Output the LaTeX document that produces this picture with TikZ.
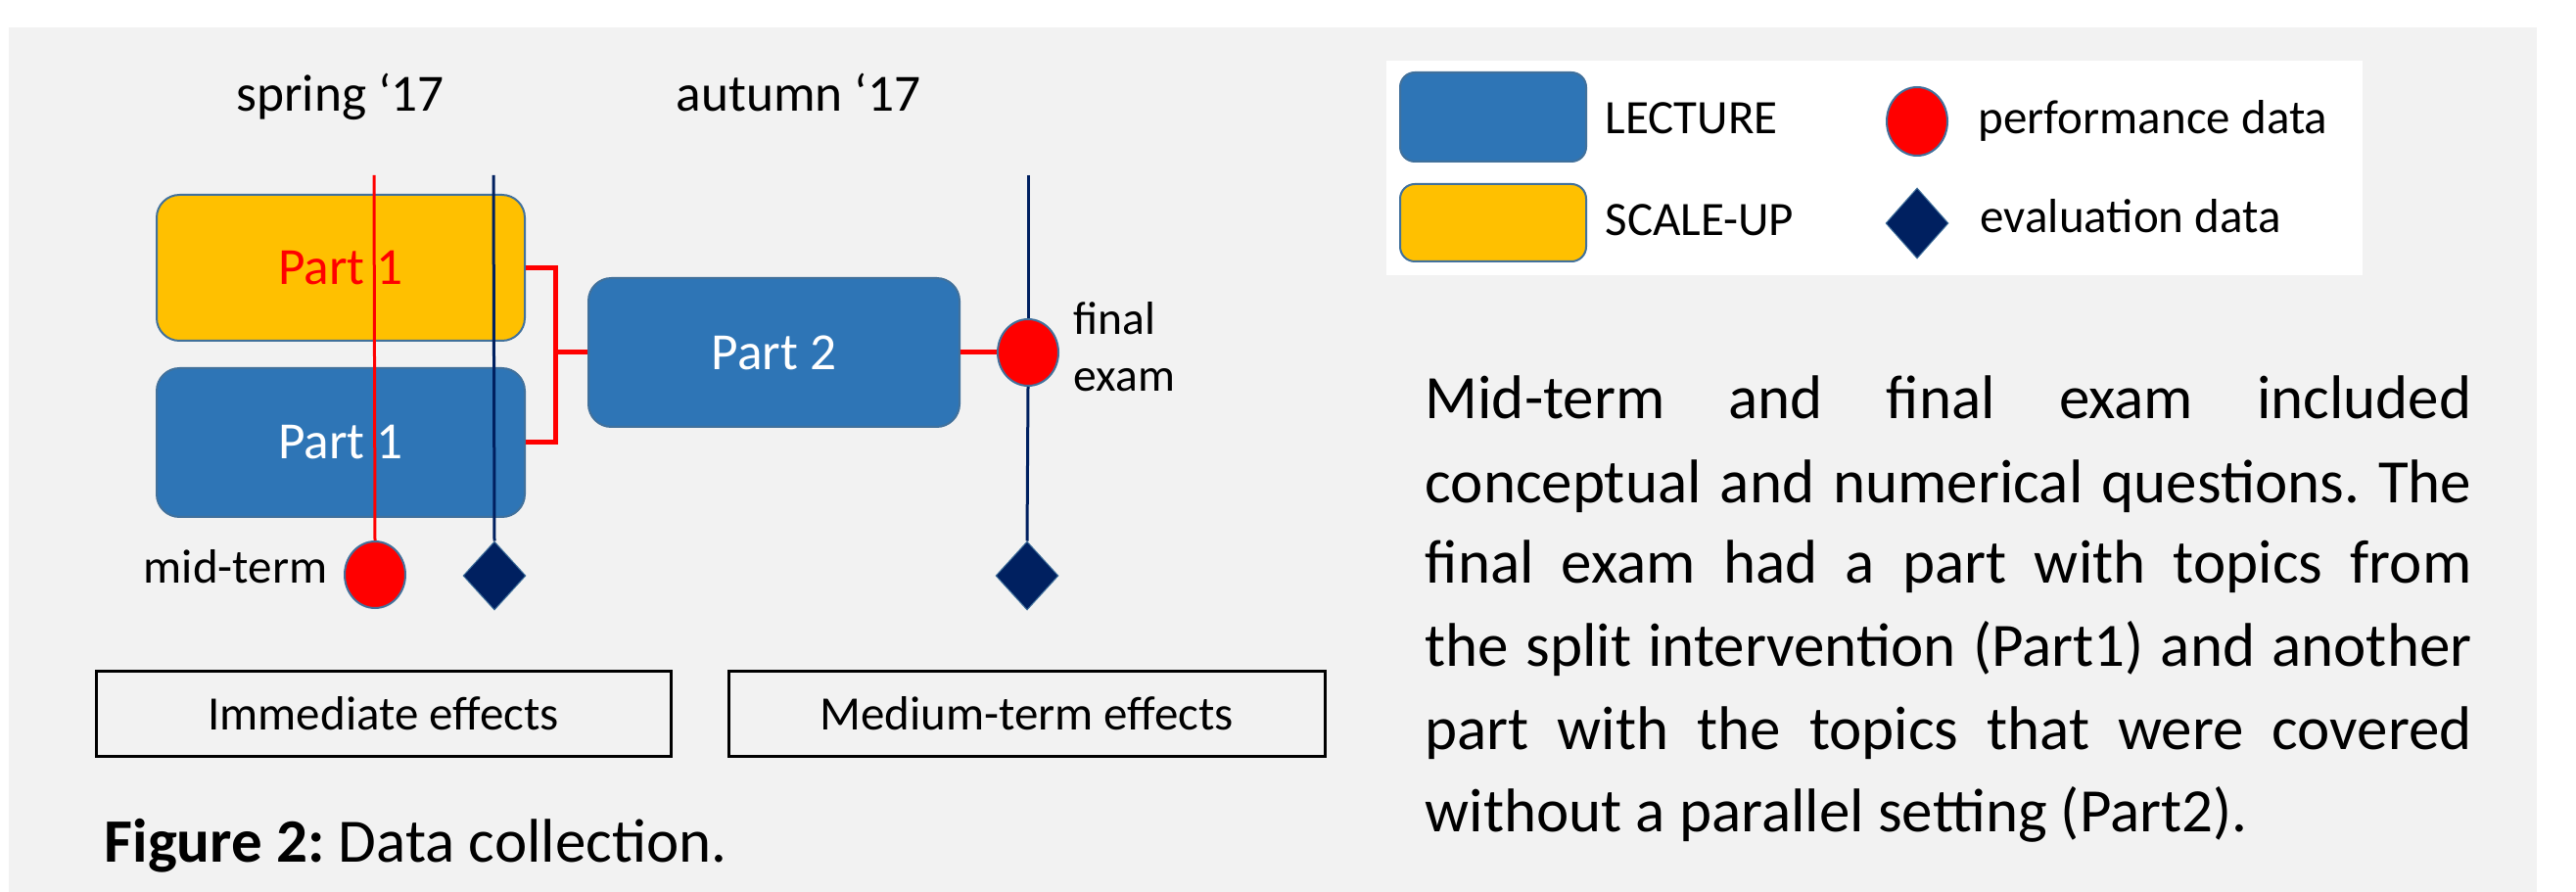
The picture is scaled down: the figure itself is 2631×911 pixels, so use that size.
\documentclass[tikz,border=0pt]{standalone}
\usepackage{fontspec}
\setmainfont{Carlito}
\usetikzlibrary{shapes.geometric}
\definecolor{bgray}{HTML}{F2F2F2}
\definecolor{lblue}{HTML}{2E75B6}
\definecolor{lyell}{HTML}{FFC000}
\definecolor{navyc}{HTML}{002060}
\definecolor{edgeb}{HTML}{41719C}
\newcommand\fsSmall{\fontsize{14.7pt}{17.4pt}\selectfont}
\newcommand\fsPart{\fontsize{16pt}{19pt}\selectfont}
\newcommand\fsBig{\fontsize{18.9pt}{25.3pt}\selectfont}
\frenchspacing
\begin{document}
\frenchspacing
\begin{tikzpicture}[x=0.3pt,y=-0.3pt,
  box/.style={rectangle, rounded corners=7pt, draw=edgeb, line width=0.6pt, inner sep=0pt, font=\fsPart},
  lecture/.style={box, fill=lblue, text=white},
  scaleup/.style={box, fill=lyell, text=red},
  swatch/.style={rectangle, rounded corners=4.5pt, draw=edgeb, line width=0.6pt, inner sep=0pt, minimum width=57pt},
  perf/.style={ellipse, fill=red, draw=edgeb, line width=0.6pt, minimum width=18.6pt, minimum height=20.4pt, inner sep=0pt},
  evald/.style={diamond, fill=navyc, draw=edgeb, line width=0.3pt, minimum width=19.2pt, minimum height=21pt, inner sep=0pt},
  effect/.style={rectangle, draw=black, line width=0.9pt, inner sep=0pt, minimum height=26.1pt, font=\fsSmall},
  lbl/.style={inner sep=0pt, font=\fsSmall},
  plbl/.style={inner sep=0pt, font=\fsPart},
  para/.style={inner sep=0pt, font=\fsBig\frenchspacing, anchor=base west},
  redline/.style={red, line width=0.9pt},
  navyline/.style={navyc, line width=0.9pt},
  bracketline/.style={red, line width=1.5pt}
]
\useasboundingbox (0,0) rectangle (2631,911);
\fill[white] (0,0) rectangle (2631,911);
\fill[bgray] (9,28) rectangle (2591,911);

% legend
\node[fill=white, inner sep=0pt, minimum width=299.1pt, minimum height=65.7pt] (legend) at (1914.5,171.5) {};
\node[swatch, fill=lblue, minimum height=27.3pt] (swl) at (1525,119.5) {};
\node[swatch, fill=lyell, minimum height=23.7pt] (sws) at (1525,227.5) {};
\node[lbl, anchor=base west] (tl) at (1639,137) {LECTURE};
\node[lbl, anchor=base west] (ts) at (1639,241) {SCALE-UP};
\node[perf, minimum height=21pt] (lp) at (1958,124) {};
\node[evald, minimum height=21.6pt] (le) at (1958,228) {};
\node[lbl, anchor=base west] (tp) at (2020,137) {performance data};
\node[lbl, anchor=base west] (te) at (2022,238) {evaluation data};

% semester labels
\node[plbl, anchor=base] (spring) at (347.5,114) {spring ‘17};
\node[plbl, anchor=base] (autumn) at (815.5,114) {autumn ‘17};

% course boxes
\node[scaleup, minimum width=112.8pt, minimum height=44.7pt] (p1y) at (348,273.5) {Part 1};
\node[lecture, minimum width=112.8pt, minimum height=45.6pt] (p1b) at (348,452) {Part 1};
\node[lecture, minimum width=113.7pt, minimum height=45.6pt] (p2) at (790.5,360) {Part 2};

% data points
\node[perf] (mid) at (383,587) {};
\node[evald] (d1) at (505,588) {};
\node[perf] (fin) at (1050,360) {};
\node[evald] (d2) at (1049,588) {};
\node[lbl, anchor=base east] (midt) at (335,596) {mid-term};
\node[lbl, anchor=base west, align=left, font=\fontsize{14.25pt}{17.4pt}\selectfont] (fint) at (1096,400) {final\\exam};

% timelines
\coordinate (rt) at (382,179);
\coordinate (nt1) at (504,179);
\coordinate (nt2) at (1050,179);
\draw[redline] (rt) -- (mid.north);
\draw[navyline] (nt1) -- (d1.north);
\draw[navyline] (nt2) -- (fin.north);
\draw[navyline] (fin.south) -- (d2.north);

% bracket
\coordinate (bj) at (567,360);
\draw[bracketline] (p1y.east) -| (bj) |- (p1b.east);
\draw[bracketline] (bj) -- (p2.west);
\draw[bracketline] (p2.east) -- (fin.west);

% effect boxes
\node[effect, minimum width=176.1pt] (imm) at (391.5,728.5) {Immediate effects};
\node[effect, minimum width=182.7pt] (med) at (1048.5,728.5) {Medium-term effects};

% caption
\node[inner sep=0pt, font=\fsBig, anchor=base west] (cap) at (106,880) {\textbf{Figure 2:} Data collection.};

% paragraph
\node[para] (l1) at (1455,428) {\makebox[320.7pt][s]{Mid-term and final exam included}};
\node[para] (l2) at (1455,513) {\makebox[320.7pt][s]{conceptual and numerical questions. The}};
\node[para] (l3) at (1455,596) {\makebox[320.7pt][s]{final exam had a part with topics from}};
\node[para] (l4) at (1455,681) {\makebox[320.7pt][s]{the split intervention (Part1) and another}};
\node[para] (l5) at (1455,765) {\makebox[320.7pt][s]{part with the topics that were covered}};
\node[para] (l6) at (1455,849) {without a parallel setting (Part2).};
\end{tikzpicture}
\end{document}
